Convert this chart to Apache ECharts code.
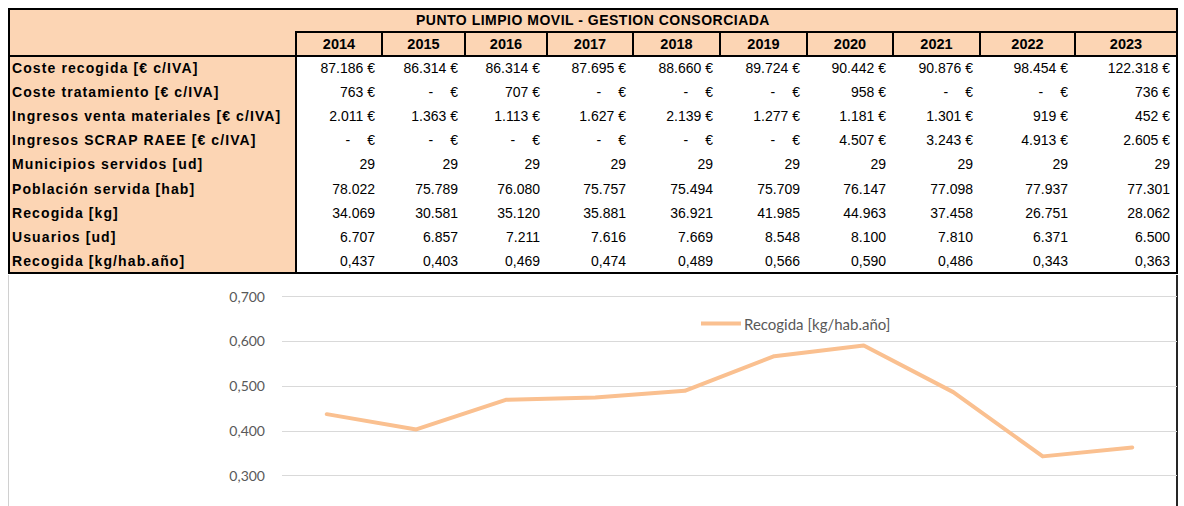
<!DOCTYPE html>
<html>
<head>
<meta charset="utf-8">
<script src="https://cdn.jsdelivr.net/npm/echarts@6/dist/echarts.min.js"></script>
<style>
  html, body { margin: 0; padding: 0; background: #fff; }
  body { width: 1184px; height: 506px; overflow: hidden; position: relative; font-family: "Liberation Sans", Arial, sans-serif; }
  .c { position: absolute; box-sizing: border-box; font-size: 14px; white-space: nowrap; color: #000; }
  .ln { position: absolute; background: #000; }
  #chartBox { position: absolute; left: 8px; top: 275px; width: 1170px; height: 231px; border-left: 1px solid #d0d0d0; border-right: 2px solid #262626; box-sizing: border-box; }
  #chart { position: absolute; left: 0; top: 275px; width: 1184px; height: 231px; }
</style>
</head>
<body>
<div id="table"></div>
<div id="chartBox"></div>
<div id="chart"></div>
<script>
var title = 'PUNTO LIMPIO MOVIL - GESTION CONSORCIADA';
var years = ['2014', '2015', '2016', '2017', '2018', '2019', '2020', '2021', '2022', '2023'];
var rowLabels = [
  'Coste recogida [€ c/IVA]',
  'Coste tratamiento [€ c/IVA]',
  'Ingresos venta materiales [€ c/IVA]',
  'Ingresos SCRAP RAEE [€ c/IVA]',
  'Municipios servidos [ud]',
  'Población servida [hab]',
  'Recogida [kg]',
  'Usuarios [ud]',
  'Recogida [kg/hab.año]'
];
var costeRecogida = [87186, 86314, 86314, 87695, 88660, 89724, 90442, 90876, 98454, 122318];
var costeTratamiento = [763, null, 707, null, null, null, 958, null, null, 736];
var ingresosVenta = [2011, 1363, 1113, 1627, 2139, 1277, 1181, 1301, 919, 452];
var ingresosScrap = [null, null, null, null, null, null, 4507, 3243, 4913, 2605];
var municipios = [29, 29, 29, 29, 29, 29, 29, 29, 29, 29];
var poblacion = [78022, 75789, 76080, 75757, 75494, 75709, 76147, 77098, 77937, 77301];
var recogidaKg = [34069, 30581, 35120, 35881, 36921, 41985, 44963, 37458, 26751, 28062];
var usuarios = [6707, 6857, 7211, 7616, 7669, 8548, 8100, 7810, 6371, 6500];
var recogidaRatio = [0.437, 0.403, 0.469, 0.474, 0.489, 0.566, 0.590, 0.486, 0.343, 0.363];

var rows = [costeRecogida, costeTratamiento, ingresosVenta, ingresosScrap, municipios, poblacion, recogidaKg, usuarios, recogidaRatio];
var isEuro = [true, true, true, true, false, false, false, false, false];

// layout of the spreadsheet
var colX = [9, 296, 382, 465, 547, 633, 720, 807, 893, 980, 1075, 1177];
var yTop = 9, yHead = 32, yData = 56, yBottom = 273;
var rowH = (yBottom - yData) / rowLabels.length;
var peach = '#fcd5b4';

function thousands(v) {
  return String(v).replace(/\B(?=(\d{3})+(?!\d))/g, '.');
}
function fmt(v, euro) {
  if (v === null) return '-<span style="display:inline-block;width:17px"></span>€';
  var s = (v < 1) ? v.toFixed(3).replace('.', ',') : thousands(v);
  return euro ? s + ' €' : s;
}

var tbl = document.getElementById('table');
function cell(x, y, w, h, html, css) {
  var d = document.createElement('div');
  d.className = 'c';
  d.style.cssText = 'left:' + x + 'px;top:' + y + 'px;width:' + w + 'px;height:' + h + 'px;line-height:' + h + 'px;' + (css || '');
  d.innerHTML = html;
  tbl.appendChild(d);
}
function line(x, y, w, h) {
  var d = document.createElement('div');
  d.className = 'ln';
  d.style.cssText = 'left:' + x + 'px;top:' + y + 'px;width:' + w + 'px;height:' + h + 'px;';
  tbl.appendChild(d);
}

// backgrounds
cell(colX[0], yTop, colX[11] - colX[0], yData - yTop, '', 'background:' + peach);
cell(colX[0], yData, colX[1] - colX[0], yBottom - yData, '', 'background:' + peach);
// title
cell(colX[0], yTop, colX[11] - colX[0], yHead - yTop, title, 'text-align:center;font-weight:bold;font-size:14px;letter-spacing:0.5px;');
// years
for (var i = 0; i < years.length; i++) {
  cell(colX[i + 1], yHead, colX[i + 2] - colX[i + 1], yData - yHead, years[i], 'text-align:center;font-weight:bold;font-size:14.5px;');
}
// rows
for (var r = 0; r < rowLabels.length; r++) {
  var y = yData + r * rowH;
  cell(colX[0] + 3, y, colX[1] - colX[0], rowH, rowLabels[r], 'font-weight:bold;letter-spacing:1.1px;');
  for (var j = 0; j < years.length; j++) {
    cell(colX[j + 1], y, colX[j + 2] - colX[j + 1], rowH, fmt(rows[r][j], isEuro[r]), 'text-align:right;padding-right:7px;');
  }
}
// borders
line(colX[0] - 1, yTop - 1, colX[11] - colX[0] + 2, 2);
line(colX[0] - 1, yBottom - 1, colX[11] - colX[0] + 2, 2);
line(colX[0] - 1, yTop - 1, 2, yBottom - yTop + 2);
line(colX[11] - 1, yTop - 1, 2, yBottom - yTop + 2);
line(colX[1] - 1, yHead - 1, colX[11] - colX[1], 2);
line(colX[0] - 1, yData - 1, colX[11] - colX[0], 2);
line(colX[1] - 1, yHead - 1, 2, yBottom - yHead);
for (var k = 2; k < colX.length - 1; k++) {
  line(colX[k] - 1, yHead - 1, 2, yData - yHead);
}

// chart (only the part from 0,300 up is visible in the picture)
var chart = echarts.init(document.getElementById('chart'), null, { renderer: 'svg' });
chart.setOption({
  animation: false,
  textStyle: { fontFamily: 'Lato, "Open Sans", sans-serif' },
  legend: {
    data: ['Recogida [kg/hab.año]'],
    left: 696,
    top: 36,
    icon: 'rect',
    itemWidth: 40,
    itemHeight: 4,
    textStyle: { color: '#595959', fontSize: 15, fontFamily: 'Lato', padding: [0, 0, 0, -2] }
  },
  grid: { left: 282, right: 7, top: 21, bottom: 30.3, containLabel: false },
  xAxis: {
    type: 'category',
    data: years,
    axisLine: { show: false },
    axisTick: { show: false },
    axisLabel: { show: false }
  },
  yAxis: {
    type: 'value',
    min: 0.3,
    max: 0.7,
    interval: 0.1,
    axisLine: { show: false },
    axisTick: { show: false },
    splitLine: { lineStyle: { color: '#d9d9d9', width: 1 } },
    axisLabel: {
      color: '#595959',
      fontSize: 14,
      fontFamily: 'Lato',
      margin: 17,
      formatter: function (v) { return v.toFixed(3).replace('.', ','); }
    }
  },
  series: [{
    name: 'Recogida [kg/hab.año]',
    type: 'line',
    data: recogidaRatio,
    symbol: 'none',
    itemStyle: { color: '#fac090' },
    lineStyle: { color: '#fac090', width: 4, cap: 'round', join: 'round' }
  }]
});
</script>
</body>
</html>
